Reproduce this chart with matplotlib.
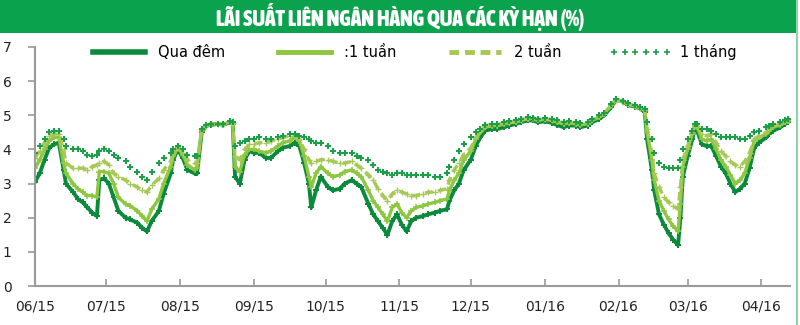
import pandas as pd
import matplotlib
matplotlib.use("Agg")
import matplotlib.pyplot as plt
import matplotlib.dates as mdates
from matplotlib import font_manager
from matplotlib.lines import Line2D
from matplotlib.patches import Rectangle

dates = [
    "2015-06-01", "2015-06-03", "2015-06-05", "2015-06-07", "2015-06-09", "2015-06-11", "2015-06-13", "2015-06-14",
    "2015-06-17", "2015-06-19", "2015-06-21", "2015-06-23", "2015-06-25", "2015-06-27", "2015-06-28", "2015-06-30",
    "2015-07-02", "2015-07-04", "2015-07-06", "2015-07-09", "2015-07-11", "2015-07-14", "2015-07-16", "2015-07-18",
    "2015-07-20", "2015-07-23", "2015-07-25", "2015-07-28", "2015-07-29", "2015-07-31",
    "2015-08-02", "2015-08-04", "2015-08-07", "2015-08-08", "2015-08-10", "2015-08-12", "2015-08-14", "2015-08-17",
    "2015-08-19", "2015-08-22", "2015-08-23", "2015-08-24", "2015-08-26", "2015-08-28", "2015-08-30",
    "2015-09-01", "2015-09-03", "2015-09-06", "2015-09-08", "2015-09-11", "2015-09-13", "2015-09-16", "2015-09-18",
    "2015-09-20", "2015-09-22", "2015-09-24", "2015-09-25", "2015-09-27", "2015-09-29",
    "2015-10-02", "2015-10-04", "2015-10-07", "2015-10-09", "2015-10-12", "2015-10-14", "2015-10-16", "2015-10-19",
    "2015-10-21", "2015-10-23", "2015-10-25", "2015-10-27", "2015-10-29", "2015-10-31",
    "2015-11-02", "2015-11-04", "2015-11-06", "2015-11-08", "2015-11-11", "2015-11-13", "2015-11-16", "2015-11-18",
    "2015-11-21", "2015-11-22", "2015-11-24", "2015-11-26", "2015-11-28",
    "2015-12-01", "2015-12-03", "2015-12-05", "2015-12-07", "2015-12-10", "2015-12-12", "2015-12-15", "2015-12-17",
    "2015-12-20", "2015-12-22", "2015-12-25", "2015-12-27", "2015-12-29",
    "2016-01-01", "2016-01-04", "2016-01-06", "2016-01-09", "2016-01-11", "2016-01-14", "2016-01-16", "2016-01-19",
    "2016-01-21", "2016-01-24", "2016-01-26", "2016-01-29", "2016-01-31",
    "2016-02-03", "2016-02-05", "2016-02-08", "2016-02-10", "2016-02-12", "2016-02-13", "2016-02-15", "2016-02-16",
    "2016-02-18", "2016-02-20", "2016-02-22", "2016-02-24", "2016-02-26", "2016-02-27", "2016-02-28",
    "2016-03-01", "2016-03-03", "2016-03-04", "2016-03-05", "2016-03-07", "2016-03-09", "2016-03-11", "2016-03-13",
    "2016-03-15", "2016-03-17", "2016-03-19", "2016-03-21", "2016-03-23", "2016-03-25", "2016-03-27", "2016-03-29",
    "2016-03-31",
    "2016-04-03", "2016-04-04", "2016-04-06", "2016-04-09", "2016-04-11", "2016-04-12",
]

qua_dem = [
    3.05, 3.3, 3.7, 4.05, 4.15, 4.2, 3.4, 3.0, 2.75, 2.55, 2.45, 2.3, 2.15, 2.05, 3.1, 3.15,
    3.0, 2.6, 2.2, 2.0, 1.95, 1.85, 1.7, 1.6, 1.9, 2.2, 2.7, 3.3, 3.7, 4.0,
    3.75, 3.4, 3.3, 3.3, 4.5, 4.7, 4.72, 4.75, 4.72, 4.8, 4.75, 3.2, 3.0, 3.7, 3.95,
    3.9, 3.9, 3.75, 3.75, 3.95, 4.05, 4.1, 4.2, 4.1, 3.6, 3.0, 2.3, 2.8, 3.2,
    2.9, 2.8, 2.85, 3.0, 3.1, 3.0, 2.9, 2.4, 2.1, 1.9, 1.7, 1.5, 1.9, 2.1,
    1.8, 1.6, 1.9, 2.0, 2.05, 2.1, 2.15, 2.2, 2.25, 2.5, 2.8, 3.0, 3.4,
    3.7, 4.1, 4.35, 4.55, 4.6, 4.6, 4.65, 4.7, 4.75, 4.8, 4.85, 4.85, 4.8,
    4.82, 4.78, 4.72, 4.65, 4.7, 4.7, 4.65, 4.7, 4.8, 4.9, 5.0, 5.25, 5.45,
    5.4, 5.3, 5.25, 5.2, 5.1, 4.3, 3.4, 2.8, 2.1, 1.8, 1.55, 1.35, 1.2, 2.0, 3.2,
    3.8, 4.3, 4.6, 4.55, 4.15, 4.1, 4.1, 3.8, 3.5, 3.3, 3.0, 2.75, 2.85, 3.0, 3.45, 4.05, 4.2,
    4.35, 4.45, 4.55, 4.65, 4.75, 4.8,
]

mot_tuan = [
    3.45, 3.7, 4.0, 4.25, 4.35, 4.35, 3.6, 3.3, 3.0, 2.85, 2.75, 2.65, 2.65, 2.6, 3.35, 3.35,
    3.3, 3.0, 2.6, 2.4, 2.35, 2.2, 2.05, 1.9, 2.25, 2.55, 3.0, 3.5, 3.8, 4.05,
    3.85, 3.55, 3.4, 3.45, 4.55, 4.7, 4.75, 4.75, 4.72, 4.82, 4.75, 3.5, 3.35, 3.85, 4.0,
    4.0, 3.95, 3.9, 3.95, 4.1, 4.2, 4.25, 4.35, 4.25, 3.8, 3.2, 2.9, 3.3, 3.5,
    3.3, 3.2, 3.25, 3.35, 3.4, 3.3, 3.2, 2.8, 2.5, 2.3, 2.1, 1.9, 2.3, 2.4,
    2.15, 2.0, 2.2, 2.3, 2.35, 2.4, 2.45, 2.5, 2.55, 2.8, 3.1, 3.3, 3.7,
    3.95, 4.3, 4.5, 4.65, 4.7, 4.7, 4.75, 4.78, 4.8, 4.85, 4.9, 4.9, 4.85,
    4.88, 4.85, 4.8, 4.75, 4.78, 4.75, 4.72, 4.75, 4.85, 4.95, 5.05, 5.3, 5.45,
    5.4, 5.32, 5.27, 5.22, 5.15, 4.5, 3.7, 3.1, 2.5, 2.2, 1.95, 1.75, 1.6, 2.4, 3.5,
    4.0, 4.45, 4.7, 4.65, 4.3, 4.25, 4.3, 4.0, 3.7, 3.5, 3.25, 3.0, 3.1, 3.3, 3.75, 4.25, 4.35,
    4.45, 4.55, 4.65, 4.72, 4.8, 4.82,
]

hai_tuan = [
    3.75, 3.95, 4.2, 4.4, 4.45, 4.45, 4.0, 3.6, 3.45, 3.45, 3.45, 3.4, 3.5, 3.55, 3.6, 3.65,
    3.55, 3.3, 3.2, 3.1, 3.0, 2.9, 2.8, 2.75, 2.95, 3.15, 3.4, 3.65, 3.9, 4.05,
    3.9, 3.7, 3.6, 3.6, 4.6, 4.7, 4.75, 4.75, 4.75, 4.82, 4.78, 3.8, 3.7, 4.0, 4.15,
    4.15, 4.2, 4.2, 4.25, 4.3, 4.35, 4.4, 4.4, 4.3, 4.0, 3.7, 3.6, 3.65, 3.7,
    3.7, 3.65, 3.6, 3.6, 3.65, 3.55, 3.45, 3.25, 3.1, 2.85, 2.65, 2.5, 2.7, 2.8,
    2.75, 2.7, 2.65, 2.65, 2.7, 2.75, 2.75, 2.8, 2.85, 3.1, 3.4, 3.6, 3.85,
    4.05, 4.35, 4.55, 4.7, 4.72, 4.72, 4.78, 4.8, 4.82, 4.87, 4.92, 4.92, 4.88,
    4.9, 4.87, 4.82, 4.78, 4.8, 4.78, 4.75, 4.78, 4.88, 4.97, 5.05, 5.3, 5.45,
    5.4, 5.33, 5.28, 5.22, 5.15, 4.6, 3.9, 3.3, 2.9, 2.6, 2.45, 2.35, 2.25, 2.9, 3.7,
    4.1, 4.5, 4.72, 4.7, 4.45, 4.4, 4.45, 4.2, 3.95, 3.8, 3.65, 3.55, 3.5, 3.65, 3.9, 4.3, 4.4,
    4.5, 4.6, 4.68, 4.75, 4.82, 4.85,
]

mot_thang = [
    3.9, 4.1, 4.3, 4.5, 4.55, 4.55, 4.3, 4.1, 4.0, 4.0, 3.95, 3.85, 3.8, 3.85, 3.95, 4.0,
    3.95, 3.85, 3.75, 3.65, 3.5, 3.35, 3.2, 3.1, 3.35, 3.6, 3.75, 3.9, 4.0, 4.1,
    4.0, 3.85, 3.8, 3.8, 4.6, 4.72, 4.75, 4.75, 4.75, 4.82, 4.8, 4.1, 4.2, 4.25, 4.3,
    4.3, 4.35, 4.3, 4.3, 4.35, 4.4, 4.45, 4.45, 4.4, 4.35, 4.3, 4.25, 4.2, 4.2,
    4.1, 3.95, 3.9, 3.9, 3.9, 3.8, 3.75, 3.7, 3.55, 3.4, 3.35, 3.3, 3.25, 3.3,
    3.3, 3.25, 3.25, 3.25, 3.25, 3.25, 3.2, 3.2, 3.3, 3.5, 3.7, 3.95, 4.15,
    4.35, 4.5, 4.6, 4.72, 4.75, 4.75, 4.8, 4.82, 4.85, 4.9, 4.95, 4.92, 4.9,
    4.92, 4.88, 4.85, 4.8, 4.82, 4.8, 4.78, 4.8, 4.9, 5.0, 5.08, 5.32, 5.48,
    5.42, 5.35, 5.3, 5.25, 5.18, 4.8, 4.3, 3.9, 3.6, 3.5, 3.45, 3.45, 3.45, 3.7, 4.0,
    4.3, 4.55, 4.75, 4.75, 4.6, 4.6, 4.55, 4.45, 4.35, 4.35, 4.35, 4.35, 4.3, 4.3, 4.4, 4.5, 4.55,
    4.65, 4.7, 4.75, 4.8, 4.85, 4.88,
]

labels = ["Qua đêm", ":1 tuần", "2 tuần", "1 tháng"]
title = "LÃI SUẤT LIÊN NGÂN HÀNG QUA CÁC KỲ HẠN (%)"

c_dark = "#0b8a3c"
c_light = "#8dc63f"
c_olive = "#a6c955"
c_month = "#1e9e4b"
c_axis = "#9a9a9a"

plt.rcParams["font.family"] = ["DejaVu Sans"]


def is_bold(f):
    w = f.weight
    return (w >= 600) if isinstance(w, int) else w in ("bold", "heavy", "black", "semibold", "demibold")


# bold narrow font file for the banner, best first
cands = []
for f in font_manager.fontManager.ttflist:
    if not is_bold(f) or f.style != "normal":
        continue
    narrowish = f.stretch in ("condensed", "semi-condensed", "extra-condensed") or "Condensed" in f.name
    if "Liberation Sans Narrow" in f.name:
        cands.append((0, f.fname))
    elif narrowish and "DejaVu" not in f.name:
        cands.append((1, f.fname))
    elif narrowish:
        cands.append((2, f.fname))
if cands:
    title_prop = font_manager.FontProperties(fname=sorted(cands)[0][1], size=15.5)
else:
    title_prop = font_manager.FontProperties(family="Roboto", weight="bold", size=15.5)

x = pd.to_datetime(dates)

fig = plt.figure(figsize=(8, 3.25), dpi=100)
ax = fig.add_axes([35 / 800, 39 / 325, 755 / 800, 239 / 325])

# title banner
fig.patches.append(Rectangle((0, 1 - 33 / 325), 0.996, 33 / 325, transform=fig.transFigure,
                             facecolor="#0aa24c", edgecolor="none"))
fig.lines.append(Line2D([0.996, 0.996], [0, 1], transform=fig.transFigure, color="#8fd3a6", lw=1.5))
ttl = fig.text(0.5, 1 - 17 / 325, title, color="white", ha="center", va="center", fontproperties=title_prop)

# shrink the banner text until it is about as wide as in the original
fig.canvas.draw()
w = ttl.get_window_extent().width
if w > 385:
    ttl.set_fontsize(15.5 * 385 / w)

ax.plot(x, qua_dem, color=c_dark, lw=2.8, marker="+", ms=5, mew=1.4)
ax.plot(x, mot_tuan, color=c_light, lw=2.4, marker="+", ms=4.5, mew=1.1)
ax.plot(x, hai_tuan, color=c_olive, lw=2.4, ls=(0, (2.5, 1.5)), marker="+", ms=4, mew=1)
ax.plot(x, mot_thang, color=c_month, ls="none", marker="+", ms=4.5, mew=1.5)

ax.set_ylim(0, 7)
ax.set_xlim(pd.Timestamp("2015-06-01"), pd.Timestamp("2016-04-13"))
ax.set_yticks(range(0, 8))
ax.xaxis.set_major_locator(mdates.MonthLocator())
ax.xaxis.set_major_formatter(mdates.DateFormatter("%m/%y"))

for s in ["top", "right"]:
    ax.spines[s].set_visible(False)
for s in ["left", "bottom"]:
    ax.spines[s].set_color(c_axis)
    ax.spines[s].set_linewidth(1.5)
ax.tick_params(axis="y", colors=c_axis, length=5, width=1.2, pad=12, labelcolor="#222222", labelsize=10)
ax.tick_params(axis="x", colors=c_axis, direction="in", length=5, width=1.2, pad=10,
               labelcolor="#222222", labelsize=10)

handles = [
    Line2D([], [], color=c_dark, lw=4),
    Line2D([], [], color=c_light, lw=3.5),
    Line2D([], [], color=c_olive, lw=3.5, ls=(0, (2, 1.2))),
    Line2D([], [], color=c_month, ls="none", marker="+", ms=4, mew=1.2),
]
ax.legend(handles, labels, loc="center", bbox_to_anchor=(0.5, 1 - 5 / 239), ncol=4, frameon=False,
          fontsize=10.5, handlelength=4.2, handletextpad=0.6, columnspacing=3.3, numpoints=6)

fig.savefig("out.png", dpi=100)
